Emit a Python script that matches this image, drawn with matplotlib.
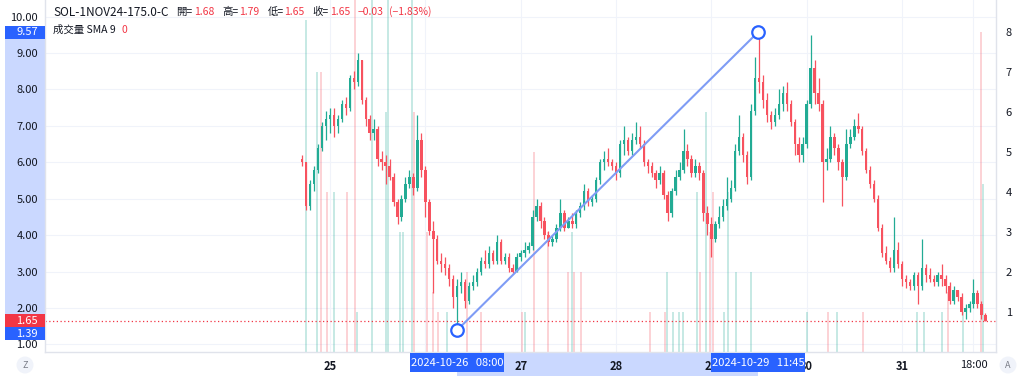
import matplotlib
matplotlib.use('Agg')
import matplotlib.pyplot as plt
import matplotlib.transforms as mtransforms
from matplotlib.patches import Rectangle, Ellipse

plt.rcParams['font.family'] = ['Noto Sans CJK TC', 'DejaVu Sans']

# ---------------- data ----------------
# hourly candles, time in hours since 2024-10-24 00:00
first_hour = 17
opens = [6.1, 6.0, 4.8, 5.4, 5.8, 6.4, 7.0, 7.2, 7.3, 7.0,
         7.2, 7.6, 7.5, 8.3, 8.2, 8.8, 7.7, 7.2, 6.8, 6.9,
         6.1, 6.0, 5.9, 5.6, 4.9, 4.5, 5.0, 5.4, 5.6, 5.3,
         6.6, 5.8, 4.9, 4.1, 3.9, 3.3, 3.2, 3.1, 2.8, 2.3,
         2.6, 2.7, 2.2, 2.6, 2.7, 3.0, 3.3, 3.2, 3.5, 3.3,
         3.8, 3.3, 3.4, 3.1, 3.0, 3.4, 3.5, 3.6, 3.7, 4.5,
         4.8, 4.4, 4.0, 3.8, 3.9, 4.2, 4.6, 4.2, 4.4, 4.3,
         4.6, 4.8, 5.2, 4.9, 5.0, 5.5, 6.0, 6.1, 6.0, 5.9,
         5.7, 6.5, 6.6, 6.3, 6.6, 6.7, 6.5, 6.0, 5.9, 5.7,
         5.5, 5.7, 5.1, 4.6, 5.2, 5.6, 5.8, 6.3, 6.1, 5.7,
         5.9, 5.7, 4.6, 4.3, 3.9, 4.3, 4.5, 4.8, 5.0, 5.3,
         6.3, 6.7, 6.2, 5.6, 7.4, 8.3, 8.2, 7.7, 7.3, 7.1,
         7.3, 7.6, 7.9, 7.6, 7.1, 6.5, 6.2, 6.5, 7.6, 8.6,
         7.9, 7.6, 6.0, 6.1, 6.7, 6.4, 6.0, 5.6, 6.5, 6.7,
         7.0, 6.9, 6.3, 5.8, 5.4, 5.0, 4.2, 3.5, 3.3, 3.1,
         3.6, 3.2, 2.8, 2.7, 2.6, 2.9, 2.6, 3.1, 2.9, 2.8,
         2.7, 2.9, 2.8, 2.6, 2.2, 2.5, 2.3, 1.9, 2.0, 2.1,
         2.4, 2.1, 1.8]
highs = [6.2, 6.0, 5.5, 5.9, 6.5, 7.1, 7.4, 7.5, 7.5, 7.3,
         7.7, 7.8, 8.4, 8.5, 9.0, 8.8, 7.8, 7.3, 7.2, 7.0,
         6.3, 6.2, 6.1, 5.7, 5.0, 5.1, 5.6, 5.8, 5.7, 7.3,
         6.8, 5.9, 5.0, 4.4, 4.0, 3.5, 3.4, 3.2, 2.9, 2.8,
         3.0, 2.8, 2.7, 2.9, 3.1, 3.4, 3.6, 3.7, 3.6, 4.0,
         3.9, 3.5, 3.5, 3.2, 3.5, 3.6, 3.8, 3.8, 4.7, 5.0,
         4.9, 4.5, 4.1, 4.0, 4.3, 5.0, 4.7, 4.5, 4.6, 4.7,
         4.9, 5.4, 5.3, 5.1, 5.6, 6.1, 6.3, 6.4, 6.1, 6.0,
         6.6, 7.0, 6.7, 6.8, 7.1, 7.0, 6.6, 6.1, 6.0, 5.8,
         5.9, 5.8, 5.2, 5.3, 5.8, 6.0, 6.9, 6.5, 6.2, 6.1,
         6.0, 5.8, 4.8, 4.5, 4.4, 4.8, 5.0, 5.6, 5.5, 6.5,
         7.3, 6.8, 6.3, 7.6, 8.9, 9.57, 8.4, 7.9, 7.4, 7.5,
         8.0, 8.1, 8.2, 7.7, 7.2, 6.7, 6.7, 7.7, 9.5, 8.8,
         8.3, 7.7, 6.4, 7.0, 6.8, 6.5, 6.1, 6.9, 6.9, 7.2,
         7.35, 7.0, 6.4, 5.9, 5.5, 5.1, 4.3, 3.7, 3.4, 4.5,
         3.8, 3.3, 2.9, 2.8, 3.0, 3.0, 3.9, 3.2, 3.1, 2.9,
         3.0, 3.2, 2.9, 2.7, 2.6, 2.5, 2.4, 2.1, 2.2, 2.8,
         2.5, 2.2, 1.85]
lows = [5.9, 4.7, 4.7, 5.2, 5.7, 6.3, 6.6, 6.8, 6.7, 6.8,
        7.1, 7.3, 7.4, 8.0, 8.1, 7.6, 7.0, 6.6, 6.6, 5.9,
        5.8, 5.4, 5.5, 4.8, 4.3, 4.4, 4.9, 5.3, 5.1, 5.2,
        5.6, 4.5, 4.0, 2.4, 3.2, 3.0, 2.9, 2.6, 2.0, 1.39,
        2.4, 2.0, 2.1, 2.5, 2.6, 2.9, 3.1, 3.1, 3.2, 3.2,
        3.2, 3.2, 3.0, 2.95, 3.0, 3.3, 3.4, 3.5, 3.6, 4.4,
        4.2, 3.9, 3.7, 3.7, 3.8, 4.1, 4.1, 4.2, 4.2, 4.2,
        4.5, 4.7, 4.8, 4.8, 4.9, 5.4, 5.8, 5.9, 5.8, 5.5,
        5.6, 6.2, 6.2, 6.2, 6.5, 6.4, 5.9, 5.7, 5.6, 5.3,
        5.4, 5.0, 4.4, 4.5, 5.1, 5.5, 5.7, 5.9, 5.6, 5.6,
        5.5, 4.4, 4.0, 3.4, 3.8, 4.2, 4.4, 4.7, 4.9, 5.2,
        6.2, 6.0, 5.4, 5.5, 7.3, 7.9, 7.5, 7.1, 6.9, 7.0,
        7.2, 7.4, 7.4, 7.0, 6.2, 6.0, 6.0, 6.4, 7.5, 7.6,
        7.4, 4.9, 5.8, 6.0, 6.2, 5.8, 4.8, 5.5, 6.4, 6.6,
        6.8, 6.2, 5.7, 5.3, 4.9, 4.1, 3.4, 3.2, 3.0, 3.0,
        3.1, 2.6, 2.55, 2.5, 2.5, 2.1, 2.5, 2.7, 2.7, 2.6,
        2.6, 2.6, 2.4, 2.1, 2.1, 2.2, 1.8, 1.7, 1.9, 2.0,
        2.0, 1.7, 1.65]
closes = [6.0, 4.8, 5.4, 5.8, 6.4, 7.0, 7.2, 7.3, 7.0, 7.2,
          7.6, 7.5, 8.3, 8.2, 8.8, 7.7, 7.2, 6.8, 6.9, 6.1,
          6.0, 5.9, 5.6, 4.9, 4.5, 5.0, 5.4, 5.6, 5.3, 6.6,
          5.8, 4.9, 4.1, 3.9, 3.3, 3.2, 3.1, 2.8, 2.3, 2.6,
          2.7, 2.2, 2.6, 2.7, 3.0, 3.3, 3.2, 3.5, 3.3, 3.8,
          3.3, 3.4, 3.1, 3.0, 3.4, 3.5, 3.6, 3.7, 4.5, 4.8,
          4.4, 4.0, 3.8, 3.9, 4.2, 4.6, 4.2, 4.4, 4.3, 4.6,
          4.8, 5.2, 4.9, 5.0, 5.5, 6.0, 6.1, 6.0, 5.9, 5.7,
          6.5, 6.6, 6.3, 6.6, 6.7, 6.5, 6.0, 5.9, 5.7, 5.5,
          5.7, 5.1, 4.6, 5.2, 5.6, 5.8, 6.3, 6.1, 5.7, 5.9,
          5.7, 4.6, 4.3, 3.9, 4.3, 4.5, 4.8, 5.0, 5.3, 6.3,
          6.7, 6.2, 5.6, 7.4, 8.3, 8.2, 7.7, 7.3, 7.1, 7.3,
          7.6, 7.9, 7.6, 7.1, 6.5, 6.2, 6.5, 7.6, 8.6, 7.9,
          7.6, 6.0, 6.1, 6.7, 6.4, 6.0, 5.6, 6.5, 6.7, 7.0,
          6.9, 6.3, 5.8, 5.4, 5.0, 4.2, 3.5, 3.3, 3.1, 3.6,
          3.2, 2.8, 2.7, 2.6, 2.9, 2.6, 3.1, 2.9, 2.8, 2.7,
          2.9, 2.8, 2.6, 2.2, 2.5, 2.3, 1.9, 2.0, 2.1, 2.4,
          2.1, 1.8, 1.65]
hours = list(range(first_hour, first_hour + len(closes)))

# volume bars (hour, volume, up?)
vol_hours = [17.9, 20.7, 21.7, 23.2, 25.0, 28.2, 30.4, 30.7, 34.7, 38.1,
             38.5, 41.6, 42.3, 44.6, 45.1, 48.5, 49.9, 51.2, 53.4, 58.4,
             62.0, 72.3, 73.1, 75.4, 78.9, 84.0, 84.9, 85.4, 87.2, 104.6,
             108.3, 108.8, 110.4, 111.9, 112.9, 116.4, 117.2, 118.7, 119.7, 120.5,
             123.3, 124.3, 126.3, 130.0, 144.1, 149.4, 151.6, 158.2, 171.8, 173.6,
             178.1, 179.6, 183.4, 188.0, 188.4]
vol_values = [8.3, 7.0, 7.0, 4.0, 4.0, 4.0, 8.8, 1.0, 8.8, 6.0,
              8.8, 3.0, 3.0, 8.8, 6.0, 3.0, 1.5, 1.0, 1.0, 2.0,
              1.0, 1.0, 1.0, 5.0, 3.0, 2.0, 3.0, 2.0, 2.0, 1.0,
              1.0, 2.0, 1.0, 1.0, 1.0, 4.0, 2.0, 6.0, 3.0, 4.0,
              1.0, 4.0, 2.0, 2.0, 1.0, 1.0, 1.0, 1.0, 1.0, 1.0,
              1.0, 1.5, 1.0, 8.0, 4.2]
vol_up = [1, 1, 0, 0, 1, 0, 0, 1, 1, 1,
          1, 1, 1, 1, 0, 0, 0, 0, 1, 0,
          0, 0, 1, 0, 0, 0, 1, 0, 0, 0,
          0, 1, 1, 1, 1, 1, 0, 1, 0, 0,
          1, 1, 1, 1, 1, 0, 1, 0, 1, 1,
          1, 0, 1, 0, 1]

price_ticks = [1, 2, 3, 4, 5, 6, 7, 8, 9, 10]
vol_ticks = [1, 2, 3, 4, 5, 6, 7, 8]
time_ticks = [24, 48, 72, 96, 120, 144, 168, 186]
time_labels = ['25', '', '27', '28', '29', '30', '31', '18:00']

anchor_hours = [56, 131.75]
anchor_prices = [1.39, 9.57]
anchor_labels = ['2024-10-26   08:00', '2024-10-29   11:45']
last_price = 1.65

header_title = 'SOL-1NOV24-175.0-C'
header_items = [('開=', '1.68'), ('高=', '1.79'), ('低=', '1.65'), ('收=', '1.65')]
header_change = ['\u22120.03', '(\u22121.83%)']

UP = '#22AB94'
DOWN = '#F7525F'
RED = '#F23645'
BLUE = '#2962FF'
DARK = '#131722'
GRID = '#f0f3fa'
SEP = '#e0e3eb'
BAND = '#cad8ff'

# ---------------- figure ----------------
W, H = 1024, 377
fig = plt.figure(figsize=(W / 100, H / 100), dpi=100)
fig.patch.set_facecolor('white')

L, R, B = 45, 996, 352
ax = fig.add_axes([L / W, (H - B) / H, (R - L) / W, B / H])
ax.set_xlim(-47.75, 191.67)
ax.set_ylim(0.791, 10.454)

ax.spines['top'].set_visible(False)
for s in ['left', 'right', 'bottom']:
    ax.spines[s].set_color(SEP)
    ax.spines[s].set_linewidth(1)

ax.set_yticks(price_ticks)
ax.set_yticklabels([f'{p:.2f}' for p in price_ticks])
ax.set_xticks(time_ticks)
ax.set_xticklabels(time_labels)
for lbl, txt in zip(ax.get_xticklabels(), time_labels):
    if ':' not in txt:
        lbl.set_fontweight('bold')
ax.tick_params(axis='y', length=0, pad=5, labelsize=8, labelcolor=DARK)
ax.tick_params(axis='x', length=0, pad=6, labelsize=8, labelcolor=DARK)
ax.grid(True, color=GRID, lw=0.8)
ax.set_axisbelow(True)

# volume (axes-fraction y; VMAX volume units = full height)
vtrans = ax.get_xaxis_transform()
VMAX = 8.8
for h, v, u in zip(vol_hours, vol_values, vol_up):
    ax.vlines(h, 0, v / VMAX, transform=vtrans,
              color=UP if u else DOWN, alpha=0.3, lw=1.2, zorder=1)

# candles
for h, o, hi, lo, c in zip(hours, opens, highs, lows, closes):
    col = UP if c >= o else DOWN
    ax.vlines(h, lo, hi, color=col, lw=0.9, zorder=3)
    ax.bar(h, max(abs(c - o), 0.03), bottom=min(o, c), width=0.62,
           color=col, edgecolor=col, lw=0, zorder=4)

# last price dotted line
ax.axhline(last_price, color=RED, lw=0.9, ls=(0, (1, 2)), zorder=2)

# trend line
ax.plot(anchor_hours, anchor_prices, color='#7f9cf5', lw=1.5, zorder=6)
ax.plot(anchor_hours, anchor_prices, 'o', ms=9, mfc='white', mec=BLUE,
        mew=1.6, zorder=7, clip_on=False)

# right volume axis labels
ax2 = ax.twinx()
ax2.set_ylim(0, VMAX)
ax2.set_yticks(vol_ticks)
ax2.set_yticklabels([str(v) for v in vol_ticks])
ax2.tick_params(axis='y', length=0, pad=7, labelsize=8, labelcolor=DARK)
for s in ax2.spines.values():
    s.set_visible(False)
ax2.patch.set_visible(False)

# left price-axis highlight band and labels
ytrans = mtransforms.blended_transform_factory(ax.transAxes, ax.transData)
axw = R - L
ax.add_patch(Rectangle((-40 / axw, anchor_prices[0]), 40 / axw,
                       anchor_prices[1] - anchor_prices[0], transform=ytrans,
                       color=BAND, lw=0, clip_on=False, zorder=0.1))
bh = 0.36
ax.add_patch(Rectangle((-40 / axw, anchor_prices[1] - bh / 2), 40 / axw, bh,
                       transform=ytrans, color=BLUE, lw=0, clip_on=False, zorder=8))
ax.text(-7 / axw, anchor_prices[1], f'{anchor_prices[1]:.2f}', transform=ytrans,
        ha='right', va='center', color='white', fontsize=8, zorder=9)
ax.add_patch(Rectangle((-40 / axw, last_price - bh / 2), 40 / axw, bh,
                       transform=ytrans, color=RED, lw=0, clip_on=False, zorder=8))
ax.text(-7 / axw, last_price, f'{last_price:.2f}', transform=ytrans,
        ha='right', va='center', color='white', fontsize=8, zorder=9)
low_top = last_price - bh / 2
ax.add_patch(Rectangle((-40 / axw, low_top - bh), 40 / axw, bh,
                       transform=ytrans, color=BLUE, lw=0, clip_on=False, zorder=8))
ax.text(-7 / axw, low_top - bh / 2, f'{anchor_prices[0]:.2f}', transform=ytrans,
        ha='right', va='center', color='white', fontsize=8, zorder=9)

# bottom time-axis highlight band and labels
xtrans = ax.get_xaxis_transform()
ax.add_patch(Rectangle((anchor_hours[0], -24 / B), anchor_hours[1] - anchor_hours[0],
                       24 / B, transform=xtrans, color=BAND, lw=0,
                       clip_on=False, zorder=0.1))
box_w = 94 / 3.972
for h, lab in zip(anchor_hours, anchor_labels):
    ax.add_patch(Rectangle((h - box_w / 2, -20 / B), box_w, 19 / B, transform=xtrans,
                           color=BLUE, lw=0, clip_on=False, zorder=8))
    ax.text(h, -10.5 / B, lab, transform=xtrans, ha='center', va='center',
            color='white', fontsize=8, zorder=9)

# header texts laid out left to right
fig.canvas.draw()
renderer = fig.canvas.get_renderer()

def put(x, y, s, color=DARK, size=7.5):
    t = fig.text(x / W, 1 - y / H, s, color=color, fontsize=size, va='center')
    bb = t.get_window_extent(renderer=renderer)
    return bb.x1

x = put(53, 12, header_title, size=8.5)
x += 8
for lab, val in header_items:
    x = put(x, 12, lab)
    x = put(x + 1, 12, val, RED)
    x += 8
for s in header_change:
    x = put(x, 12, s, RED)
    x += 5
x = put(53, 30, '成交量 SMA 9')
put(x + 6, 30, '0', RED)

# corner buttons
for cx, s in [(25, 'Z'), (1008, 'A')]:
    fig.patches.append(Ellipse((cx / W, 1 - 365 / H), 17 / W, 17 / H,
                               transform=fig.transFigure,
                               facecolor='#f0f3fa', edgecolor='none'))
    fig.text(cx / W, 1 - 365 / H, s, ha='center', va='center', fontsize=6.5,
             color='#787b86')

fig.savefig('out.png', dpi=100, facecolor='white')
